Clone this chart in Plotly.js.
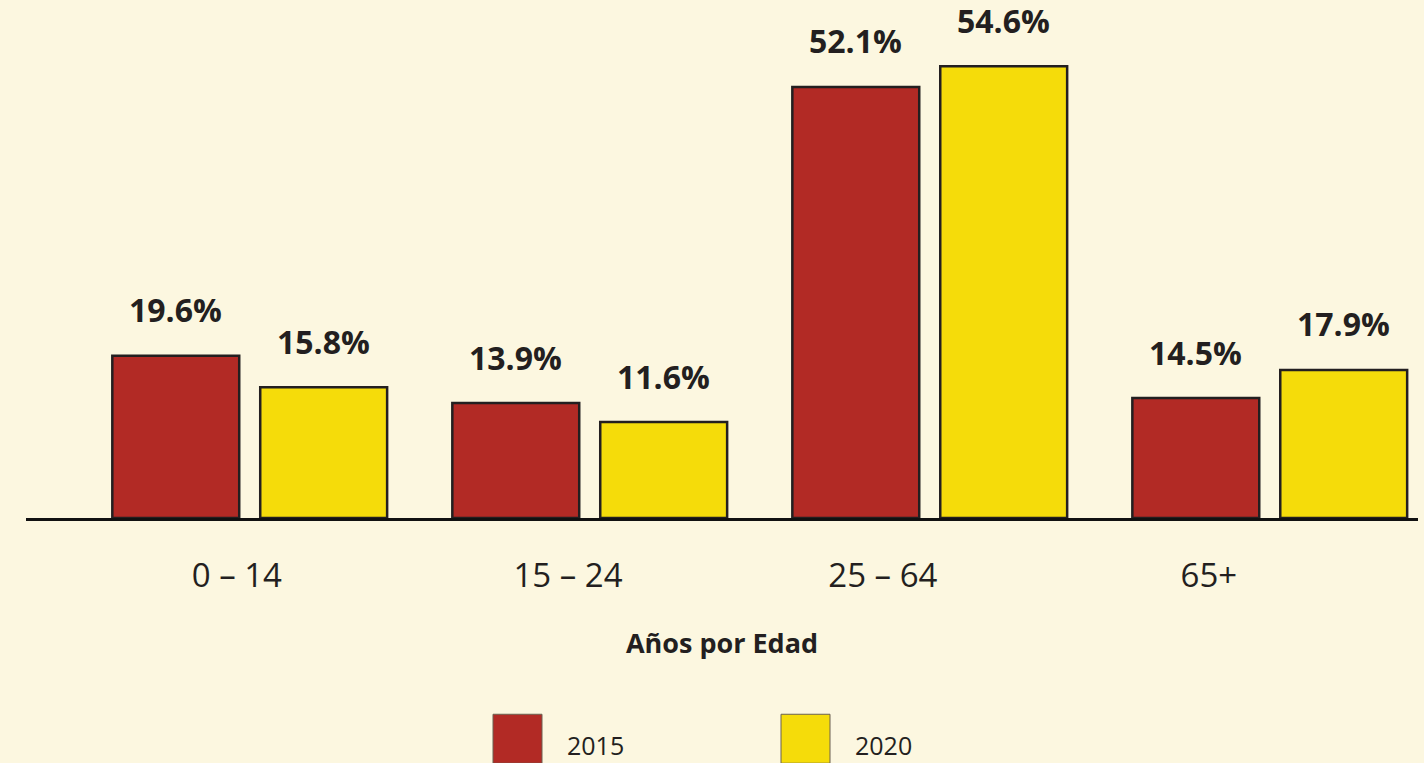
<!DOCTYPE html>
<html>
<head>
<meta charset="utf-8">
<script src="https://cdn.plot.ly/plotly-3.0.1.min.js"></script>
<style>
  html, body { margin: 0; padding: 0; background: #FCF7E0; }
  #chart { width: 1424px; height: 763px; }
</style>
</head>
<body>
<div id="chart"></div>
<script>
// ---- data ----
const categories = ["0 – 14", "15 – 24", "25 – 64", "65+"];
const seriesNames = ["2015", "2020"];
const values2015 = [19.6, 13.9, 52.1, 14.5];
const values2020 = [15.8, 11.6, 54.6, 17.9];
const axisTitle = "Años por Edad";

// ---- styling constants ----
const BG = "#FCF7E0";
const INK = "#231F20";
const RED = "#B22A25";
const YELLOW = "#F5DC0A";
const BARGAP = 0.13;
const BARGROUPGAP = 0.142;
const tickShift = [-0.038, -0.064, -0.138, -0.179];

const xIdx = categories.map((c, i) => i);
const seriesVals = [values2015, values2020];
const seriesColors = [RED, YELLOW];

const traces = seriesVals.map((vals, k) => ({
  type: "bar",
  name: seriesNames[k],
  x: xIdx,
  y: vals,
  marker: { color: seriesColors[k], line: { color: INK, width: 2.5 } },
  hoverinfo: "none"
}));

// label positions follow the grouped-bar offsets
const slot = (1 - BARGAP) / seriesVals.length;
const annotations = [];
seriesVals.forEach((vals, k) => {
  const off = -((1 - BARGAP) / 2) + slot * (k + 0.5);
  vals.forEach((v, i) => {
    annotations.push({
      x: xIdx[i] + off, y: v, xref: "x", yref: "y",
      text: "<b>" + v.toFixed(1) + "%</b>",
      showarrow: false, xanchor: "center", yanchor: "middle", yshift: 46,
      font: { family: "Open Sans", size: 32, color: INK }
    });
  });
});

const layout = {
  width: 1424, height: 763,
  paper_bgcolor: BG, plot_bgcolor: BG,
  margin: { l: 26, r: 6, t: 10, b: 245, autoexpand: false },
  barmode: "group",
  bargap: BARGAP,
  bargroupgap: BARGROUPGAP,
  font: { family: "Open Sans", color: INK },
  showlegend: true,
  legend: {
    orientation: "h",
    xref: "container", yref: "container",
    x: 468 / 1424, xanchor: "left",
    y: 18 / 763, yanchor: "middle",
    itemwidth: 89,
    entrywidth: 184, entrywidthmode: "pixels",
    font: { family: "Open Sans", size: 25, color: INK },
    bgcolor: "rgba(0,0,0,0)",
    traceorder: "normal"
  },
  xaxis: {
    type: "linear",
    range: [-0.658, 3.436],
    tickmode: "array",
    tickvals: xIdx.map((i) => i + tickShift[i]),
    ticktext: categories,
    ticks: "",
    ticklabelstandoff: 27,
    tickfont: { family: "Open Sans", size: 33, color: INK },
    showgrid: false, zeroline: false,
    showline: true, linecolor: "#111111", linewidth: 2.5,
    fixedrange: true,
    title: {
      text: "<b>" + axisTitle + "</b>",
      font: { family: "Open Sans", size: 27, color: INK },
      standoff: 38
    }
  },
  yaxis: {
    range: [0, 61.4],
    visible: false,
    showgrid: false, zeroline: false, fixedrange: true
  },
  annotations: annotations,
  hovermode: false
};

function bigSwatches() {
  const gd = document.getElementById("chart");
  gd.querySelectorAll(".legend .scrollbox").forEach((s) => s.removeAttribute("clip-path"));
  gd.querySelectorAll(".legend").forEach((s) => s.removeAttribute("clip-path"));
  gd.querySelectorAll(".legend .legendpoints path").forEach((p) => {
    p.setAttribute("d", "M24.5,18.5H-24.5V-30.5H24.5Z");
    p.style.strokeWidth = "1px";
    p.style.stroke = "#6b6152";
  });
}

Plotly.newPlot("chart", traces, layout, { displayModeBar: false, staticPlot: true }).then((gd) => {
  bigSwatches();
  gd.on("plotly_afterplot", bigSwatches);
});
</script>
</body>
</html>
